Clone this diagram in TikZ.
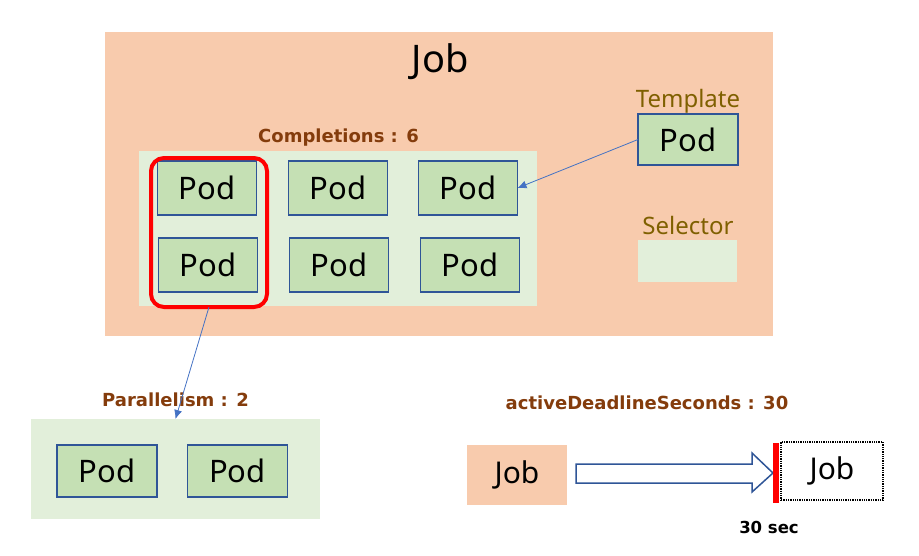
\documentclass[tikz,border=0pt]{standalone}
\usepackage{fontspec}
\setmainfont{Noto Sans}
\newfontfamily\capfont{DejaVu Sans}
\usepackage{tikz}
\usetikzlibrary{arrows.meta}

\definecolor{jobfill}{HTML}{F8CBAD}
\definecolor{areafill}{HTML}{E2EFDA}
\definecolor{podfill}{HTML}{C5E0B4}
\definecolor{podline}{HTML}{2F5597}
\definecolor{labelbrown}{HTML}{843C0C}
\definecolor{labelgold}{HTML}{7F6000}
\definecolor{linkblue}{HTML}{4472C4}

\begin{document}
\begin{tikzpicture}[x=1pt,y=-1pt,
  every node/.style={inner sep=0pt, outer sep=0pt},
  pod/.style={draw=podline, line width=1.5pt, fill=podfill, minimum width=99pt, minimum height=54pt, font=\fontsize{31}{33}\selectfont},
  area/.style={fill=areafill},
  caption/.style={text=labelbrown, font=\fontsize{18}{20}\selectfont\capfont\bfseries},
  link/.style={draw=linkblue, line width=0.8pt, -{Latex[length=9pt,width=8pt]}}]
\useasboundingbox (0,0) rectangle (919,555);

% job
\node[fill=jobfill, minimum width=668pt, minimum height=304pt] (job) at (439,184) {};
\node[font=\fontsize{38}{40}\selectfont] (jobtitle) at (440,62) {Job};
\node[caption] (compl) at (338.5,138) {Completions : 6};
\node[area, minimum width=398pt, minimum height=155pt] (complbox) at (338,228.5) {};

\node[pod] (p11) at (207,188) {Pod};
\node[pod] (p12) at (338,188) {Pod};
\node[pod] (p13) at (468,188) {Pod};
\node[pod] (p21) at (208,265) {Pod};
\node[pod] (p22) at (339,265) {Pod};
\node[pod] (p23) at (470,265) {Pod};

\node[draw=red, line width=4pt, rounded corners=13pt, minimum width=116pt, minimum height=149pt] (group) at (209,232.5) {};

% template and selector
\node[text=labelgold, font=\fontsize{24}{26}\selectfont] (tpllabel) at (688,101) {Template};
\node[pod, minimum width=100pt, minimum height=51pt] (tpl) at (688,139.5) {Pod};
\node[text=labelgold, font=\fontsize{24}{26}\selectfont] (sellabel) at (688,225) {Selector};
\node[area, minimum width=99pt, minimum height=42pt] (sel) at (687.5,261) {};

\draw[link] (tpl.west) -- (p13.east);

% parallelism
\node[caption] (par) at (175.5,400) {Parallelism : 2};
\node[area, minimum width=289pt, minimum height=100pt] (parbox) at (175.5,469) {};
\node[pod, minimum width=100pt, minimum height=52pt] (q1) at (107,471) {Pod};
\node[pod, minimum width=100pt, minimum height=52pt] (q2) at (237.5,471) {Pod};

\draw[link] (group.south) -- (parbox.north);

% deadline
\node[caption] (dead) at (647,403) {activeDeadlineSeconds : 30};
\node[fill=jobfill, minimum width=100pt, minimum height=60pt, font=\fontsize{30}{32}\selectfont] (jobstart) at (517,475) {Job};
\draw[podline, line width=1.5pt, fill=white] (576,464) -- (752,464) -- (752,453) -- (773,473) -- (752,492) -- (752,483) -- (576,483) -- cycle;
\node[fill=red, minimum width=6pt, minimum height=60pt] (limit) at (776,473) {};
\node[draw, densely dotted, line width=1.3pt, minimum width=102pt, minimum height=58pt, font=\fontsize{30}{32}\selectfont] (jobend) at (832,471) {Job};
\node[font=\fontsize{16.5}{18}\selectfont\capfont\bfseries] (sec) at (769,527) {30 sec};
\end{tikzpicture}
\end{document}
